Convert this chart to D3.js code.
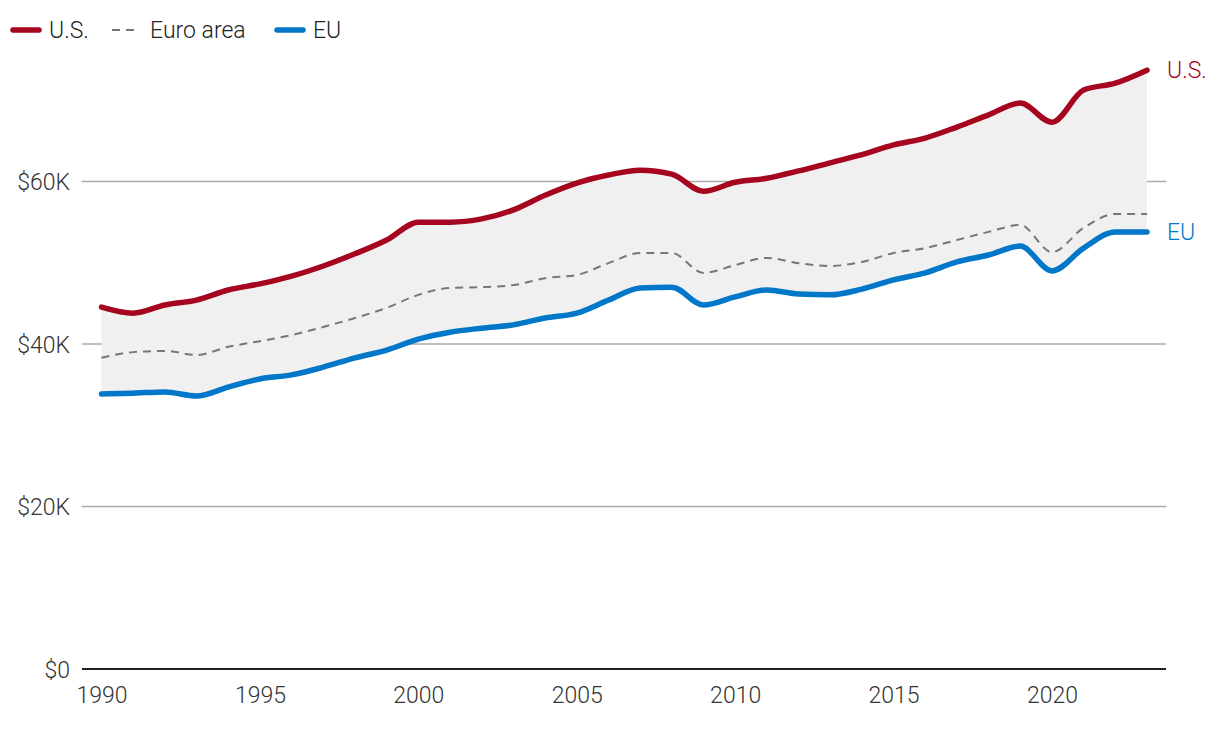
<!DOCTYPE html>
<html><head><meta charset="utf-8">
<script src="https://cdn.jsdelivr.net/npm/d3@7"></script>
<style>body{margin:0;background:#fff}svg{display:block;font-family:Roboto,"Noto Sans",sans-serif;font-weight:300}</style>
</head><body><svg id="c" width="1220" height="732"></svg>
<script>
const years = d3.range(1990, 2024);
const usValues = [44550,43800,44800,45400,46650,47400,48350,49600,51100,52800,55000,55000,55400,56500,58300,59800,60800,61400,60900,58800,59900,60400,61300,62300,63300,64500,65350,66700,68200,69650,67300,71250,72100,73700];
const euroAreaValues = [38300,39000,39150,38650,39650,40350,41100,42100,43200,44450,46050,46900,47000,47250,48100,48500,49950,51200,51200,48750,49700,50600,49950,49600,50100,51200,51800,52800,53800,54650,51300,54300,56000,56000];
const euValues = [33850,33950,34100,33600,34700,35700,36200,37150,38300,39250,40600,41450,41950,42350,43200,43800,45400,46900,47000,44800,45800,46650,46150,46050,46750,47900,48750,50100,50950,52050,49000,51800,53800,53800];
const yTicks = [0,20000,40000,60000];
const yTickLabels = ["$0","$20K","$40K","$60K"];
const xTicks = [1990,1995,2000,2005,2010,2015,2020];
const seriesNames = ["U.S.","Euro area","EU"];

const svg = d3.select("#c");
const x = d3.scaleLinear().domain([1990,2023]).range([101.5,1147]);
const y = d3.scaleLinear().domain([0,20000]).range([669,506.5]);
const red = "#a6051f", blue = "#0077c8", gray = "#777";
const FS = 23;

const yAxis = d3.axisLeft(y).tickValues(yTicks).tickSize(0).tickPadding(12)
  .tickFormat((d,i)=>yTickLabels[i]);
const gy = svg.append("g").attr("transform","translate(82,0)").call(yAxis);
gy.select(".domain").remove();
gy.selectAll("text").attr("font-size",FS).attr("fill","#333").attr("font-family","Roboto, sans-serif").attr("font-weight",300).attr("dy","0.35em");
svg.append("g").selectAll("line").data(yTicks.filter(d=>d>0)).join("line")
  .attr("x1",82).attr("x2",1166).attr("y1",d=>y(d)).attr("y2",d=>y(d))
  .attr("stroke","#aaa").attr("stroke-width",1.5);

const curve = d3.curveMonotoneX;
const data = years.map((yr,i)=>({yr, us:usValues[i], ea:euroAreaValues[i], eu:euValues[i]}));

svg.append("path").datum(data)
  .attr("d", d3.area().curve(curve).x(d=>x(d.yr)).y0(d=>y(d.eu)).y1(d=>y(d.us)))
  .attr("fill","#f0f0f0");

const xAxis = d3.axisBottom(x).tickValues(xTicks).tickSize(0).tickPadding(18).tickFormat(d3.format("d"));
const gx = svg.append("g").attr("transform","translate(0,669)").call(xAxis);
gx.select(".domain").remove();
gx.selectAll("text").attr("font-size",FS).attr("fill","#333").attr("font-family","Roboto, sans-serif").attr("font-weight",300);
svg.append("line").attr("x1",82).attr("x2",1166).attr("y1",669).attr("y2",669).attr("stroke","#222").attr("stroke-width",2);

const line = key => d3.line().curve(curve).x(d=>x(d.yr)).y(d=>y(d[key]));
svg.append("path").datum(data).attr("d",line("ea")).attr("fill","none")
  .attr("stroke",gray).attr("stroke-width",2).attr("stroke-dasharray","8,6");
svg.append("path").datum(data).attr("d",line("eu")).attr("fill","none")
  .attr("stroke",blue).attr("stroke-width",5.5).attr("stroke-linecap","round").attr("stroke-linejoin","round");
svg.append("path").datum(data).attr("d",line("us")).attr("fill","none")
  .attr("stroke",red).attr("stroke-width",5.5).attr("stroke-linecap","round").attr("stroke-linejoin","round");

const last = data[data.length-1];
svg.append("text").attr("x",1167).attr("y",y(last.us)).attr("dy","0.35em").attr("font-size",FS).attr("fill",red).text(seriesNames[0]);
svg.append("text").attr("x",1167).attr("y",y(last.eu)).attr("dy","0.35em").attr("font-size",FS).attr("fill",blue).text(seriesNames[2]);

const lg = svg.append("g").attr("transform","translate(0,30)");
lg.append("line").attr("x1",13).attr("x2",39).attr("stroke",red).attr("stroke-width",5.5).attr("stroke-linecap","round");
lg.append("text").attr("x",49).attr("dy","0.35em").attr("font-size",FS).attr("fill","#222").text(seriesNames[0]);
lg.append("line").attr("x1",112).attr("x2",138).attr("stroke",gray).attr("stroke-width",2).attr("stroke-dasharray","8,6");
lg.append("text").attr("x",150).attr("dy","0.35em").attr("font-size",FS).attr("fill","#222").text(seriesNames[1]);
lg.append("line").attr("x1",277).attr("x2",303).attr("stroke",blue).attr("stroke-width",5.5).attr("stroke-linecap","round");
lg.append("text").attr("x",313).attr("dy","0.35em").attr("font-size",FS).attr("fill","#222").text(seriesNames[2]);
</script></body></html>
